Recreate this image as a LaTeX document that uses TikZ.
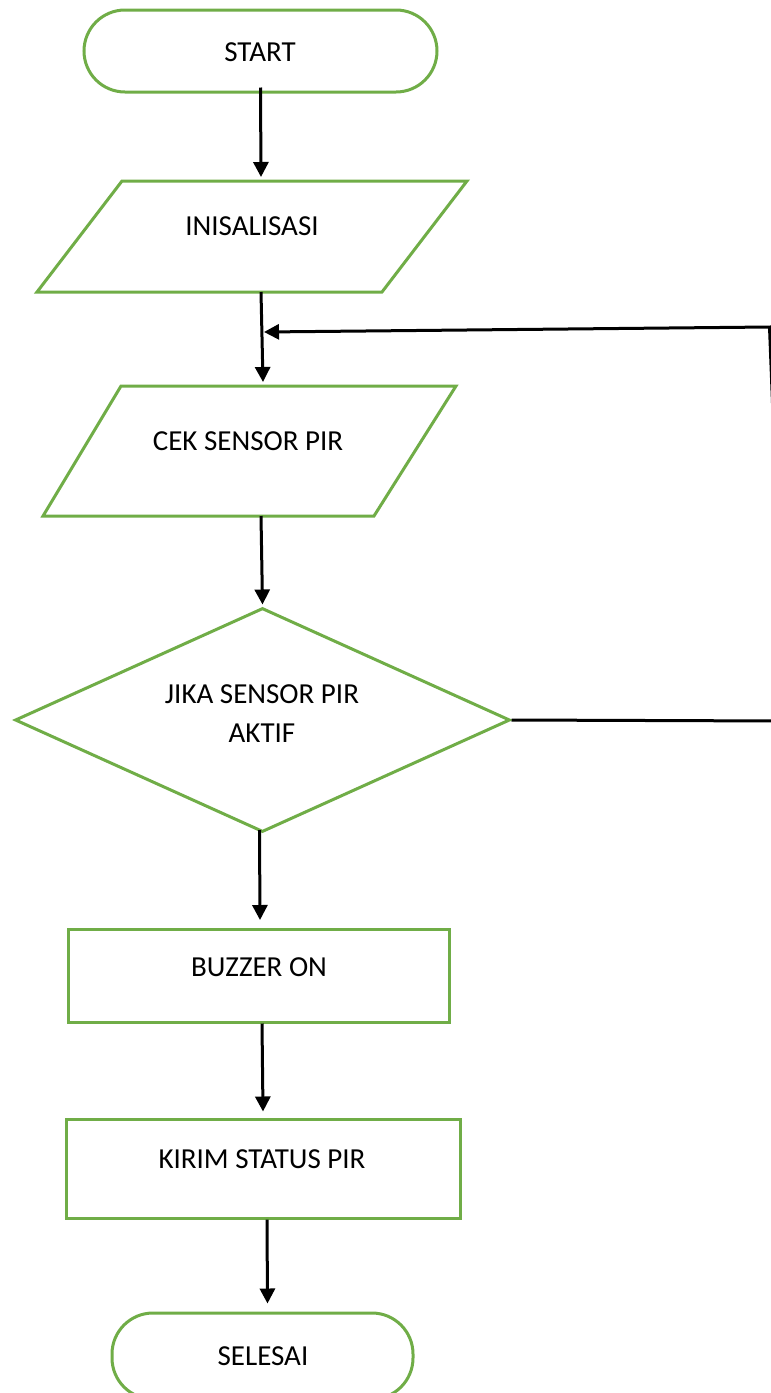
\documentclass[tikz,border=0pt]{standalone}
\usepackage{fontspec}
\setmainfont{Carlito}
\usetikzlibrary{arrows.meta,shapes.geometric}
\definecolor{leaf}{HTML}{70AD47}
\tikzset{
  outline/.style={draw=leaf, line width=3pt, fill=white},
  terminal/.style={outline, rectangle, rounded corners=41pt, inner sep=0pt},
  process/.style={outline, rectangle, inner sep=0pt},
  decision/.style={outline, diamond, inner sep=0pt},
  label/.style={inner sep=0pt, font=\fontsize{29}{39}\selectfont, align=center},
  flow/.style={draw=black, line width=3pt, -{Triangle[length=15pt,width=15pt]}},
}
\begin{document}
\begin{tikzpicture}[x=1pt, y=-1pt]
\useasboundingbox (0,0) rectangle (771,1393);

% terminals
\node[terminal, minimum width=353pt, minimum height=82pt] (start) at (260.5,51) {};
\node[label] (startText) at (260,52) {START};

% input/output parallelograms
\draw[outline] (122,181) -- (467,181) -- (382,292) -- (37,292) -- cycle;
\node[label] (init) at (252,226) {INISALISASI};
\coordinate (initTop) at (261,181);
\coordinate (initBot) at (261,292);

\draw[outline] (121,386) -- (456,386) -- (374,516) -- (43,516) -- cycle;
\node[label] (cek) at (248,441) {CEK SENSOR PIR};
\coordinate (cekTop) at (263,386);
\coordinate (cekBot) at (261,516);

% decision
\node[decision, minimum width=495pt, minimum height=224pt] (jika) at (262.5,720) {};
\node[label] (jikaText) at (262,713.5) {JIKA SENSOR PIR\\AKTIF};
\coordinate (jikaBot) at (259.5,830);

% processes
\node[process, minimum width=381pt, minimum height=93pt] (buzzer) at (258.5,975.5) {};
\node[label] (buzzerText) at (259,967) {BUZZER ON};
\coordinate (buzzerTop) at (260,929);

\node[process, minimum width=394pt, minimum height=99pt] (kirim) at (263,1168.5) {};
\node[label] (kirimText) at (262,1159) {KIRIM STATUS PIR};

\node[terminal, minimum width=301pt, minimum height=86pt] (selesai) at (262.5,1356) {};
\node[label] (selesaiText) at (263,1356) {SELESAI};

% main flow
\draw[flow] ([yshift=6pt]start.south) -- ([yshift=4pt]initTop);
\draw[flow] (initBot) -- ([yshift=4pt]cekTop);
\draw[flow] (cekBot) -- ([yshift=2pt]jika.north);
\draw[flow] (jikaBot) -- ([yshift=9pt]buzzerTop);
\draw[flow] (buzzer.south -| 262,0) -- ([yshift=6pt]kirim.north);
\draw[flow] ([xshift=4pt]kirim.south) -- ([xshift=5pt,yshift=8pt]selesai.north);

% return path when the sensor is not active
\coordinate (loopLow) at (785,721);
\coordinate (loopHigh) at (769.5,327);
\coordinate (loopIn) at (264,332);
\draw[flow] (jika.east) -- (loopLow) -- (loopHigh) -- (loopIn);
\end{tikzpicture}
\end{document}
